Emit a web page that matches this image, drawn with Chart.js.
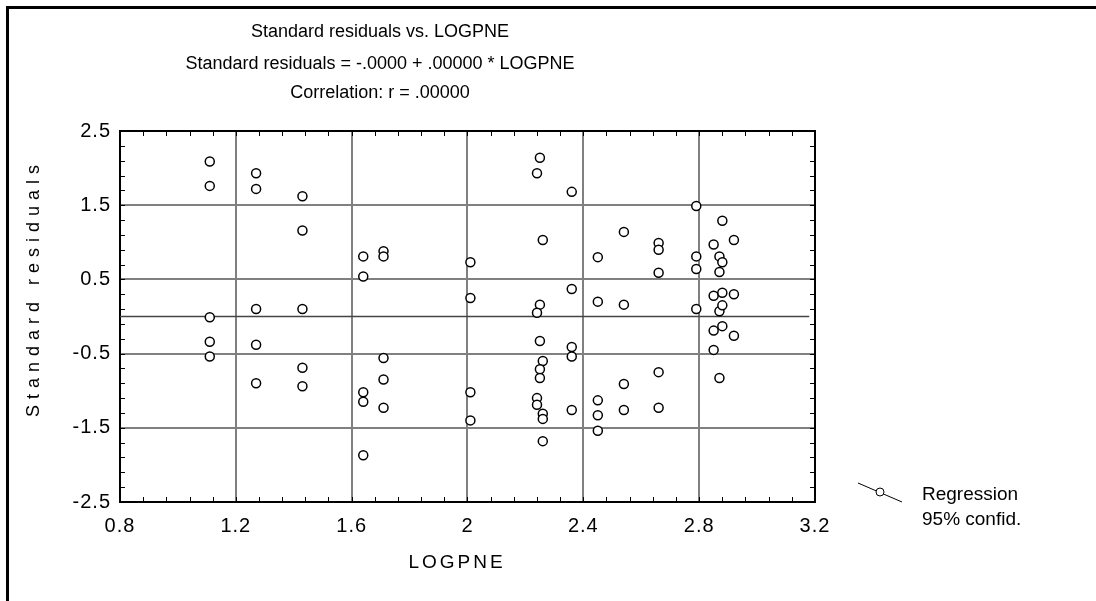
<!DOCTYPE html>
<html>
<head>
<meta charset="utf-8">
<title>Standard residuals vs. LOGPNE</title>
<script src="https://cdn.jsdelivr.net/npm/chart.js@4.4.1/dist/chart.umd.min.js"></script>
<style>
  body { margin: 0; background: #fff; }
  #wrap { width: 1096px; height: 601px; }
</style>
</head>
<body>
<div id="wrap"><canvas id="chart" width="1096" height="601"></canvas></div>
<script>
// Residual scatter

const titleLines = [
    'Standard residuals vs. LOGPNE',
    'Standard residuals = -.0000 + .00000 * LOGPNE',
    'Correlation: r = .00000'
];
const xTitle = 'LOGPNE';
const yTitle = 'Standard residuals';
const legendLabels = ['Regression', '95% confid.'];

const xTicks = [0.8, 1.2, 1.6, 2.0, 2.4, 2.8, 3.2];
const yTicks = [-2.5, -1.5, -0.5, 0.5, 1.5, 2.5];

// observations (LOGPNE, standard residual)
const logpne = [
    1.11, 1.11, 1.11, 1.11, 1.11,
    1.27, 1.27, 1.27, 1.27, 1.27,
    1.43, 1.43, 1.43, 1.43, 1.43,
    1.64, 1.64, 1.64, 1.64, 1.64,
    1.71, 1.71, 1.71, 1.71, 1.71,
    2.01, 2.01, 2.01, 2.01,
    2.25, 2.24, 2.26, 2.25, 2.24, 2.25, 2.26, 2.25, 2.25, 2.24, 2.24, 2.26, 2.26, 2.26,
    2.36, 2.36, 2.36, 2.36, 2.36,
    2.45, 2.45, 2.45, 2.45, 2.45,
    2.54, 2.54, 2.54, 2.54,
    2.66, 2.66, 2.66, 2.66, 2.66,
    2.79, 2.79, 2.79, 2.79,
    2.85, 2.85, 2.85, 2.85,
    2.87, 2.87, 2.87, 2.87,
    2.88, 2.88, 2.88, 2.88, 2.88,
    2.92, 2.92, 2.92
];
const residuals = [
    2.09, 1.76, -0.01, -0.34, -0.54,
    1.93, 1.72, 0.10, -0.38, -0.90,
    1.62, 1.16, 0.10, -0.69, -0.94,
    0.81, 0.54, -1.02, -1.15, -1.87,
    0.88, 0.81, -0.56, -0.85, -1.23,
    0.73, 0.25, -1.02, -1.40,
    2.14, 1.93, 1.03, 0.16, 0.05, -0.33, -0.60, -0.71, -0.83, -1.10, -1.19, -1.31, -1.38, -1.68,
    1.68, 0.37, -0.41, -0.54, -1.26,
    0.80, 0.20, -1.13, -1.33, -1.54,
    1.14, 0.16, -0.91, -1.26,
    0.99, 0.90, 0.59, -0.75, -1.23,
    1.49, 0.81, 0.64, 0.10,
    0.97, 0.28, -0.19, -0.45,
    0.81, 0.60, 0.07, -0.83,
    1.29, 0.73, 0.32, 0.15, -0.13,
    1.03, 0.30, -0.26
];

// fitted line
const intercept = -0.0000;
const slope = 0.00000;
const regX = [0.8, 3.18];

const FONT = '"Liberation Sans", Arial, sans-serif';

// Extra drawing: frame, minor ticks, titles, legend
const decorPlugin = {
    id: 'decor',
    beforeDraw(chart) {
        // slightly spaced tick labels like the original
        chart.ctx.letterSpacing = '1px';
    },
    beforeDatasetsDraw(chart) {
        const ctx = chart.ctx;
        const a = chart.chartArea;
        const xs = chart.scales.x;
        const ys = chart.scales.y;
        ctx.save();
        ctx.strokeStyle = '#000';
        ctx.lineWidth = 1;
        ctx.beginPath();
        for (let i = 0; i <= 30; i++) {
            const px = Math.round(xs.getPixelForValue(0.8 + i * 0.08)) + 0.5;
            ctx.moveTo(px, a.bottom); ctx.lineTo(px, a.bottom - 5);
            ctx.moveTo(px, a.top); ctx.lineTo(px, a.top + 5);
        }
        for (let i = 0; i <= 25; i++) {
            const py = Math.round(ys.getPixelForValue(-2.5 + i * 0.2)) + 0.5;
            ctx.moveTo(a.left, py); ctx.lineTo(a.left + 5, py);
            ctx.moveTo(a.right, py); ctx.lineTo(a.right - 5, py);
        }
        ctx.stroke();
        // top and right edges of the plot box
        ctx.lineWidth = 2;
        ctx.beginPath();
        ctx.moveTo(a.left, a.top); ctx.lineTo(a.right, a.top); ctx.lineTo(a.right, a.bottom);
        ctx.stroke();
        ctx.restore();
    },
    afterDraw(chart) {
        const ctx = chart.ctx;
        ctx.save();
        ctx.letterSpacing = '0px';
        // outer frame
        ctx.strokeStyle = '#000';
        ctx.lineWidth = 3;
        ctx.strokeRect(7.5, 7.5, 1300, 1000);

        ctx.fillStyle = '#000';
        ctx.font = '18px ' + FONT;
        ctx.textAlign = 'center';
        ctx.textBaseline = 'middle';
        const ty = [32, 64, 93];
        titleLines.forEach((t, i) => ctx.fillText(t, 380, ty[i]));

        // x title
        ctx.font = '19px ' + FONT;
        ctx.letterSpacing = '3px';
        ctx.fillText(xTitle, 457, 563);

        // y title (rotated, spaced out)
        ctx.save();
        ctx.translate(34, 288);
        ctx.rotate(-Math.PI / 2);
        ctx.font = '18px ' + FONT;
        ctx.letterSpacing = '6px';
        ctx.fillText(yTitle, 0, 0);
        ctx.restore();
        ctx.letterSpacing = '0px';

        // legend
        ctx.lineWidth = 1;
        ctx.beginPath();
        ctx.moveTo(858, 483); ctx.lineTo(902, 502);
        ctx.stroke();
        ctx.beginPath();
        ctx.arc(880, 492, 4, 0, Math.PI * 2);
        ctx.fillStyle = '#fff';
        ctx.fill();
        ctx.stroke();
        ctx.fillStyle = '#000';
        ctx.textAlign = 'left';
        ctx.font = '19px ' + FONT;
        ctx.fillText(legendLabels[0], 922, 495);
        ctx.fillText(legendLabels[1], 922, 520);
        ctx.restore();
    }
};

const fmt = v => String(Math.round(v * 10) / 10);

const ctx = document.getElementById('chart').getContext('2d');
new Chart(ctx, {
    type: 'scatter',
    data: {
        datasets: [
            {
                label: 'Residuals',
                data: logpne.map((x, i) => ({ x: x, y: residuals[i] })),
                pointRadius: 4.5,
                pointBorderWidth: 1.5,
                pointBorderColor: '#000',
                pointBackgroundColor: '#fff',
                order: 0
            },
            {
                type: 'line',
                label: 'Regression',
                data: regX.map(x => ({ x: x, y: intercept + slope * x })),
                borderColor: '#444',
                borderWidth: 1.5,
                pointRadius: 0,
                fill: false,
                order: 1
            }
        ]
    },
    options: {
        responsive: false,
        animation: false,
        layout: { padding: { left: 0, top: 131, right: 281, bottom: 0 } },
        plugins: {
            legend: { display: false },
            title: { display: false },
            tooltip: { enabled: false }
        },
        scales: {
            x: {
                type: 'linear',
                min: 0.8,
                max: 3.2,
                afterBuildTicks: s => { s.ticks = xTicks.map(v => ({ value: v })); },
                afterFit: s => { s.height = 99; },
                grid: { color: '#808080', lineWidth: 2, drawTicks: false },
                border: { color: '#000', width: 2 },
                ticks: {
                    color: '#000',
                    padding: 12,
                    maxRotation: 0,
                    font: { family: FONT, size: 20 },
                    callback: v => fmt(v)
                }
            },
            y: {
                type: 'linear',
                min: -2.5,
                max: 2.5,
                afterBuildTicks: s => { s.ticks = yTicks.map(v => ({ value: v })); },
                afterFit: s => { s.width = 120; },
                grid: { color: '#808080', lineWidth: 2, drawTicks: false },
                border: { color: '#000', width: 2 },
                ticks: {
                    color: '#000',
                    padding: 9,
                    font: { family: FONT, size: 20 },
                    callback: v => fmt(v)
                }
            }
        }
    },
    plugins: [decorPlugin]
});
</script>
</body>
</html>
